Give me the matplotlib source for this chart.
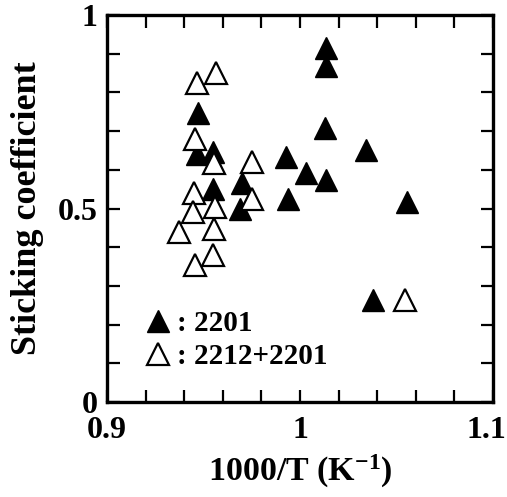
import matplotlib
matplotlib.use('Agg')
import matplotlib.pyplot as plt
from matplotlib.ticker import MultipleLocator
from matplotlib.transforms import ScaledTranslation

# 2201 phase (filled triangles)
filled_x = [0.947, 0.9465, 0.955, 0.955, 0.970, 0.969, 0.993, 0.994, 1.003,
            1.0135, 1.013, 1.0135, 1.0135, 1.034, 1.0556, 1.038]
filled_y = [0.748, 0.640, 0.647, 0.550, 0.565, 0.500, 0.634, 0.525, 0.593,
            0.574, 0.709, 0.914, 0.867, 0.651, 0.516, 0.264]

# 2212+2201 mixture (open triangles)
open_x = [0.9465, 0.9565, 0.9456, 0.9554, 0.975, 0.945, 0.975, 0.956,
          0.9447, 0.9375, 0.9554, 0.955, 0.9456, 1.0544]
open_y = [0.825, 0.851, 0.679, 0.617, 0.621, 0.541, 0.525, 0.505,
          0.492, 0.438, 0.446, 0.380, 0.354, 0.264]

labels = [': 2201', ': 2212+2201']
xticks = [0.9, 1.0, 1.1]
xticklabels = ['0.9', '1', '1.1']
yticks = [0, 0.5, 1]
yticklabels = ['0', '0.5', '1']

plt.rcParams['font.family'] = ['Liberation Serif', 'DejaVu Serif']
plt.rcParams['font.weight'] = 'bold'
plt.rcParams['mathtext.fontset'] = 'custom'
plt.rcParams['mathtext.rm'] = 'Liberation Serif:bold'
plt.rcParams['mathtext.default'] = 'rm'

fig = plt.figure(figsize=(5.07, 4.97), dpi=100)
ax = fig.add_axes([107/507, 95/497, 386/507, 387/497])

ax.plot(filled_x, filled_y, ls='none', marker='^', ms=16.5, mfc='black',
        mec='black', mew=1.0, label=labels[0])
ax.plot(open_x, open_y, ls='none', marker='^', ms=16.5, mfc='white',
        mec='black', mew=1.6, label=labels[1])

ax.set_xlim(0.9, 1.1)
ax.set_ylim(0, 1)
ax.set_xticks(xticks, xticklabels)
ax.set_yticks(yticks, yticklabels)
ax.xaxis.set_minor_locator(MultipleLocator(0.02))
ax.yaxis.set_minor_locator(MultipleLocator(0.1))
ax.tick_params(which='both', direction='in', top=True, right=True,
               length=9, width=1.6, labelsize=23)
ax.tick_params(axis='x', which='major', pad=10)
ax.tick_params(axis='y', which='major', pad=7)

# the last x label sits a little inside the right edge, as in the original
lab = ax.xaxis.get_major_ticks()[-1].label1
lab.set_transform(lab.get_transform() + ScaledTranslation(-0.07, 0, fig.dpi_scale_trans))

for sp in ax.spines.values():
    sp.set_linewidth(2.4)

ax.set_xlabel('1000/T (K$^{-1}$)', fontsize=24.5, fontweight='bold', labelpad=6)
ax.set_ylabel('Sticking coefficient', fontsize=26, fontweight='bold', labelpad=10)

ax.legend(loc='lower left', bbox_to_anchor=(0.045, 0.03), frameon=False,
          fontsize=21, handlelength=0.9, handletextpad=0.2,
          labelspacing=0.2, borderpad=0.2)

fig.savefig('out.png', dpi=100)
